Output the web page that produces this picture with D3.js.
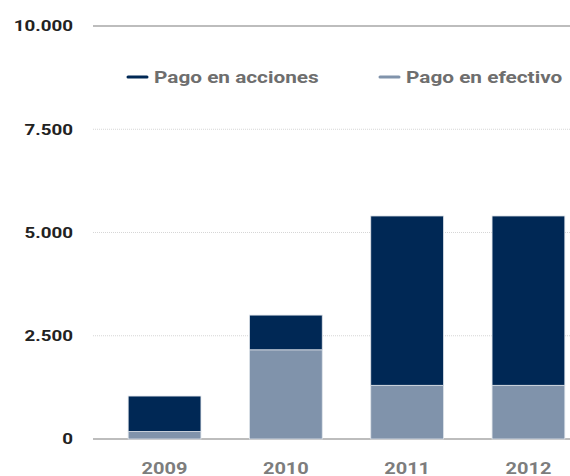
<!DOCTYPE html>
<html>
<head>
<meta charset="utf-8">
<script src="https://cdn.jsdelivr.net/npm/d3@7/dist/d3.min.js"></script>
<style>
  html, body { margin: 0; padding: 0; background: #fff; }
  svg { display: block; font-family: Roboto, "Noto Sans", Arial, sans-serif; }
</style>
</head>
<body>
<svg id="chart" width="570" height="476"></svg>
<script>
// Annual payments by type
const years = ["2009", "2010", "2011", "2012"];
const pagoEfectivo = [180, 2160, 1300, 1300];
const pagoAcciones = [860, 840, 4100, 4100];
const yTicks = [0, 2500, 5000, 7500, 10000];
const seriesNames = ["Pago en acciones", "Pago en efectivo"];
const seriesColors = ["#002855", "#8093ab"];

const svg = d3.select("#chart");
const W = 570, H = 476;
const left = 93;
const stretch = 1.25; // wide letterforms used throughout the chart

const x = d3.scaleBand().domain(years).range([left, 600]).paddingInner(0.4).paddingOuter(0.29);
const y = d3.scaleLinear().domain([0, 10000]).range([439, 26]);

const fmt = v => d3.format(",")(v).replace(/,/g, ".");

// Gridlines
const grid = svg.append("g");
yTicks.forEach(t => {
  const solid = (t === 0 || t === 10000);
  grid.append("line")
    .attr("x1", left).attr("x2", W)
    .attr("y1", y(t)).attr("y2", y(t))
    .attr("stroke", solid ? "#bdbdbd" : "#d6d6d6")
    .attr("stroke-width", solid ? 2 : 1)
    .attr("stroke-dasharray", solid ? null : "1,1");
});

// Y axis labels
const yLab = svg.append("g");
yTicks.forEach(t => {
  yLab.append("g")
    .attr("transform", `translate(73,${y(t)}) scale(${stretch},1)`)
    .append("text")
    .attr("text-anchor", "end")
    .attr("dy", "0.35em")
    .attr("font-size", 15)
    .attr("font-weight", "bold")
    .attr("fill", "#222")
    .text(fmt(t));
});

// Stacked bars
const rows = years.map((yr, i) => ({ year: yr, efectivo: pagoEfectivo[i], acciones: pagoAcciones[i] }));
const stack = d3.stack().keys(["efectivo", "acciones"]);
const layers = stack(rows);
const layerColor = { efectivo: seriesColors[1], acciones: seriesColors[0] };

svg.append("g").selectAll("g")
  .data(layers)
  .join("g")
  .attr("fill", d => layerColor[d.key])
  .selectAll("rect")
  .data(d => d)
  .join("rect")
  .attr("x", d => x(d.data.year))
  .attr("width", x.bandwidth())
  .attr("y", d => y(d[1]))
  .attr("height", d => y(d[0]) - y(d[1]))
  .attr("stroke", "#dfe4ea")
  .attr("stroke-width", 0.8);

// X axis labels
years.forEach(yr => {
  svg.append("g")
    .attr("transform", `translate(${x(yr) + x.bandwidth() / 2},468) scale(${stretch},1)`)
    .append("text")
    .attr("text-anchor", "middle")
    .attr("dy", "0.35em")
    .attr("font-size", 16)
    .attr("font-weight", "bold")
    .attr("fill", "#7d7d7d")
    .text(yr);
});

// Legend
const legendX = [128, 380];
seriesNames.forEach((name, i) => {
  const g = svg.append("g").attr("transform", `translate(${legendX[i]},77)`);
  g.append("line")
    .attr("x1", 0).attr("x2", 19)
    .attr("y1", 0).attr("y2", 0)
    .attr("stroke", seriesColors[i])
    .attr("stroke-width", 3)
    .attr("stroke-linecap", "round");
  g.append("g")
    .attr("transform", `translate(26,0) scale(1.26,1)`)
    .append("text")
    .attr("dy", "0.35em")
    .attr("font-size", 16.5)
    .attr("font-weight", "bold")
    .attr("fill", "#6e6e6e")
    .text(name);
});
</script>
</body>
</html>
